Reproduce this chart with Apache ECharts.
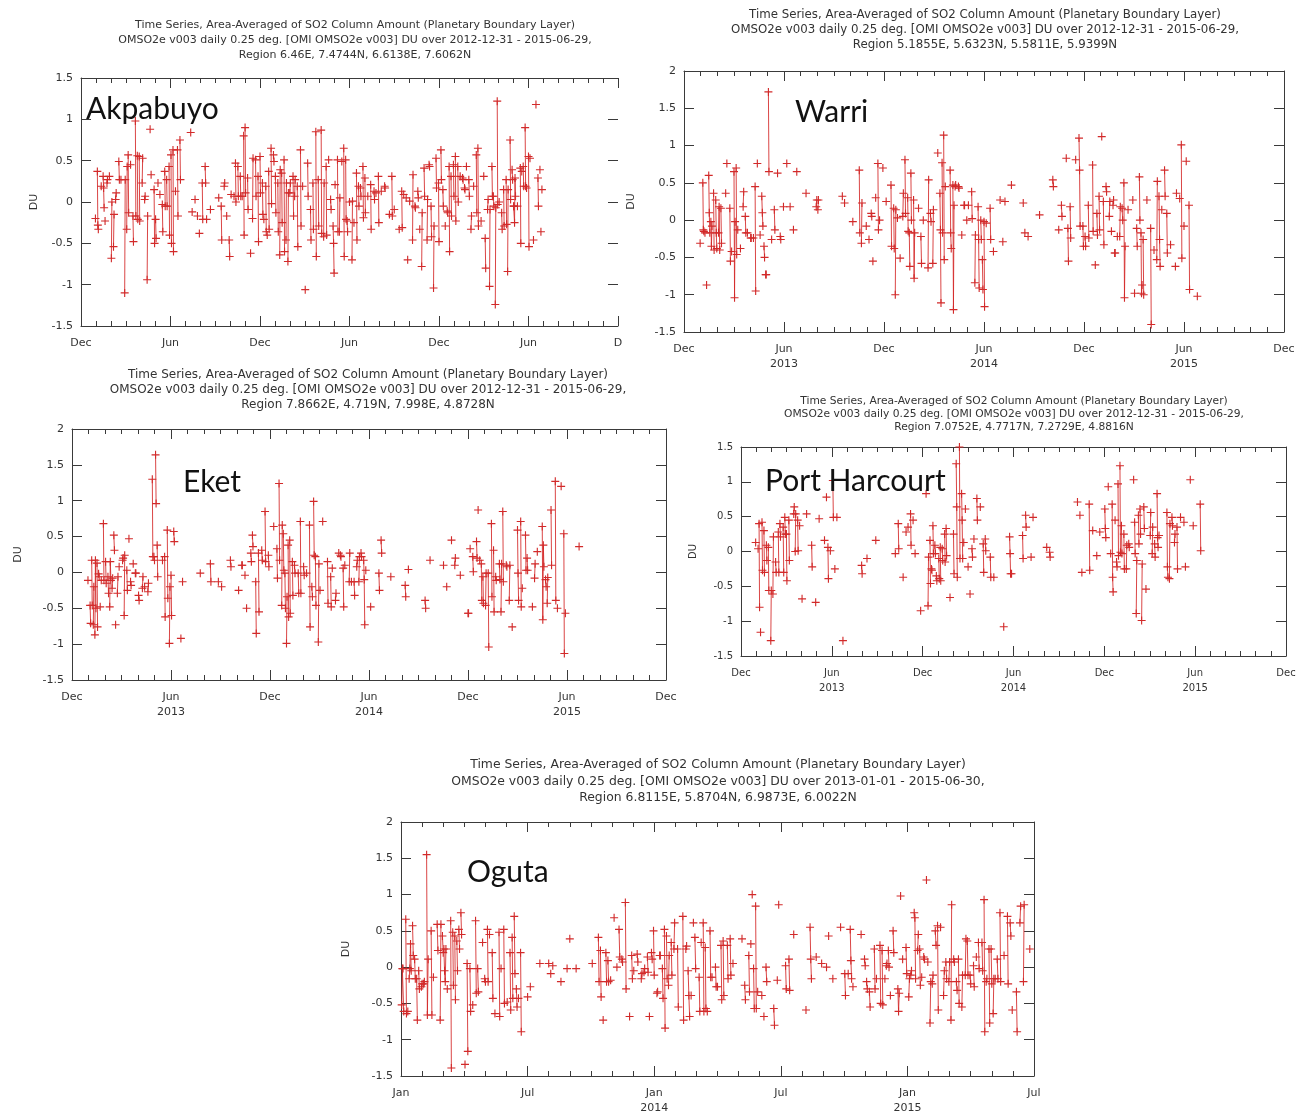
<!DOCTYPE html>
<html>
<head>
<meta charset="utf-8">
<script src="https://cdn.jsdelivr.net/npm/echarts@6/dist/echarts.min.js"></script>
<style>html,body{margin:0;background:#fff}#main{width:1309px;height:1116px}</style>
</head>
<body>
<div id="main"></div>
<script>
// site names, regions and periods shown in the titles
var sites = ['Akpabuyo', 'Warri', 'Eket', 'Port Harcourt', 'Oguta'];
var regions = ['Region 6.46E, 7.4744N, 6.6138E, 7.6062N',
               'Region 5.1855E, 5.6323N, 5.5811E, 5.9399N',
               'Region 7.8662E, 4.719N, 7.998E, 4.8728N',
               'Region 7.0752E, 4.7717N, 7.2729E, 4.8816N',
               'Region 6.8115E, 5.8704N, 6.9873E, 6.0022N'];
var periods = ['2012-12-31 - 2015-06-29', '2012-12-31 - 2015-06-29', '2012-12-31 - 2015-06-29',
               '2012-12-31 - 2015-06-29', '2013-01-01 - 2015-06-30'];
var startDates = ['2012-12-31', '2012-12-31', '2012-12-31', '2012-12-31', '2013-01-01'];

// x tick labels (every 6 months)
var ticksAkpabuyo = ['Dec', 'Jun', 'Dec', 'Jun', 'Dec', 'Jun', 'D'];
var ticksDec = ['Dec', 'Jun\n2013', 'Dec', 'Jun\n2014', 'Dec', 'Jun\n2015', 'Dec'];
var ticksJan = ['Jan', 'Jul', 'Jan\n2014', 'Jul', 'Jan\n2015', 'Jul'];

// [day since start date, DU]
var akpabuyo = [[0,-0.2],[4,0.37],[5,-0.28],[6,-0.33],[12,0.19],[16,0.31],[17,0.17],[18,-0.07],[20,-0.23],[24,0.23],[25,0.27],[29,0.31],[33,-0.68],[34,0],[37,-0.54],[38,-0.15],[41,0.03],[42,0.11],[47,0.49],[48,0.27],[51,0.27],[58,-1.1],[59,0.27],[62,-0.33],[63,0.43],[65,0.57],[66,-0.13],[70,0.45],[75,-0.17],[76,-0.48],[80,0.98],[81,-0.17],[84,0.56],[85,-0.21],[88,0.55],[89,-0.23],[94,0.23],[95,0.53],[99,0.03],[100,0.07],[104,-0.94],[105,-0.17],[110,0.88],[112,0.33],[118,0.15],[119,-0.5],[121,-0.21],[122,-0.44],[126,0.23],[130,0.09],[135,-0.03],[136,-0.36],[140,0.37],[141,-0.05],[144,0.27],[145,-0.05],[149,0.43],[150,-0.4],[153,0.57],[154,-0.5],[157,0.63],[158,-0.6],[162,0.13],[166,0.63],[167,-0.17],[171,0.75],[172,0.27],[193,0.84],[196,-0.12],[202,0.03],[207,-0.17],[211,-0.38],[217,0.23],[218,-0.21],[223,0.43],[224,0.23],[226,-0.21],[234,-0.09],[251,0.05],[256,-0.05],[257,-0.46],[262,0.19],[263,0.23],[267,-0.17],[272,-0.46],[273,-0.66],[276,0.09],[282,0.07],[285,0.47],[286,0],[290,0.43],[291,0.07],[295,0.31],[296,0.07],[299,0.07],[302,0.8],[303,-0.4],[305,0.9],[306,0.11],[310,0.29],[311,-0.09],[316,-0.62],[320,-0.2],[321,0.53],[326,0.51],[327,0.07],[331,0.31],[332,-0.48],[335,0.55],[336,0.11],[340,0.23],[341,-0.15],[343,-0.21],[347,0.19],[348,-0.36],[350,-0.4],[353,0.37],[354,-0.33],[358,0.65],[359,-0.02],[363,0.57],[364,0.49],[367,0.31],[368,-0.13],[372,0.23],[373,-0.36],[376,-0.64],[377,0.39],[380,0.35],[381,-0.25],[385,0.51],[386,-0.6],[389,-0.46],[390,0.23],[393,-0.72],[394,0.11],[397,0.11],[398,0.23],[403,0.31],[404,-0.17],[406,0.07],[407,0.27],[411,0.19],[412,-0.54],[417,0.63],[418,-0.29],[421,0.19],[426,-1.06],[431,0.47],[432,0.07],[437,-0.09],[438,-0.46],[442,0.23],[443,-0.33],[448,0.85],[449,-0.66],[453,0.27],[454,-0.29],[459,0.87],[460,-0.38],[464,-0.42],[465,0.23],[469,0.43],[470,-0.4],[474,0.51],[478,0.03],[479,-0.09],[483,-0.29],[484,-0.5],[485,-0.86],[487,0.21],[492,0.51],[493,-0.36],[496,-0.36],[497,0.05],[501,0.49],[505,0.65],[506,-0.66],[509,0.51],[510,-0.21],[512,-0.23],[513,-0.36],[517,0],[522,-0.7],[523,0.01],[526,-0.25],[531,0.35],[532,-0.46],[535,0.19],[536,-0.05],[539,0.17],[540,0.07],[544,0.43],[545,-0.19],[548,0.29],[549,-0.13],[554,0.07],[560,0.21],[561,-0.33],[567,0.13],[568,0.03],[571,0.11],[576,0.31],[577,-0.25],[582,0.13],[589,0.19],[590,0.17],[599,-0.15],[604,0.31],[605,-0.17],[609,-0.09],[619,-0.33],[624,0.13],[625,-0.31],[628,0.09],[633,0.05],[636,-0.7],[640,0.01],[646,-0.46],[647,0.33],[651,-0.05],[652,-0.07],[657,0.13],[658,0.05],[661,-0.33],[665,-0.78],[666,-0.13],[670,0.41],[671,0.07],[676,-0.46],[677,0.03],[680,0.45],[681,0.43],[684,-0.05],[685,-0.42],[689,-1.04],[690,-0.29],[694,0.53],[695,0.17],[699,0.23],[700,-0.48],[704,0.63],[705,0.27],[708,0.15],[709,-0.05],[713,-0.29],[717,-0.11],[718,-0.13],[721,0.43],[722,-0.6],[725,0.31],[726,-0.17],[730,0.45],[731,0.07],[734,0.55],[735,-0.23],[739,0.43],[740,0],[744,0.31],[749,0.29],[750,0.27],[753,0.17],[754,0.15],[757,0.43],[762,0.27],[763,0.07],[766,-0.33],[767,-0.17],[771,0.19],[776,0.57],[777,-0.13],[779,0.65],[780,-0.29],[785,-0.23],[790,0.31],[793,-0.44],[794,-0.8],[798,-0.09],[799,0.03],[802,-1.02],[803,-0.09],[807,0.43],[808,0.07],[810,0.07],[811,-0.05],[814,-1.24],[815,-0.07],[818,1.22],[819,-0.03],[822,0],[827,-0.13],[828,-0.33],[831,0.15],[832,-0.29],[836,0.27],[837,-0.27],[839,-0.84],[840,0.15],[844,0.75],[845,0.03],[848,0.39],[849,0.27],[851,-0.05],[852,-0.05],[853,-0.25],[854,0.29],[855,0.07],[859,-0.05],[865,0.41],[866,-0.5],[868,0.37],[871,0.43],[872,0.19],[875,0.9],[876,0.19],[878,0.17],[882,0.55],[883,-0.54],[885,0.53],[892,-0.46],[897,1.18],[901,0.29],[902,-0.05],[905,0.39],[907,-0.36],[909,0.15]];

var warri = [[0,-0.31],[5,0.5],[6,-0.13],[7,-0.15],[9,-0.17],[12,-0.87],[16,0.6],[17,0.1],[18,-0.17],[20,-0.02],[21,-0.35],[22,-0.08],[25,0.36],[26,-0.4],[29,0.27],[30,-0.17],[31,-0.38],[34,-0.17],[35,0.18],[36,-0.4],[38,0.16],[39,-0.31],[46,0.36],[48,0.76],[53,0.16],[54,-0.55],[56,-0.42],[60,0.65],[61,-1.04],[62,-0.02],[64,0.7],[65,-0.46],[67,-0.13],[72,-0.38],[77,0.18],[78,0.38],[81,0.05],[82,-0.17],[85,-0.17],[91,-0.24],[92,-0.24],[96,-0.24],[99,0.45],[100,-0.95],[103,0.76],[108,-0.2],[111,0.32],[112,0.1],[113,-0.08],[115,-0.35],[116,-0.5],[118,-0.73],[119,-0.73],[123,1.72],[124,0.65],[129,-0.26],[134,0.14],[135,-0.13],[140,0.63],[145,-0.22],[146,-0.26],[151,0.18],[157,0.76],[163,0.18],[169,-0.13],[175,0.65],[192,0.36],[211,0.18],[212,0.27],[214,0.14],[215,0.27],[259,0.32],[263,0.23],[278,-0.02],[290,0.67],[291,-0.17],[294,-0.31],[295,0.23],[303,-0.08],[308,-0.26],[312,0.09],[313,0.05],[315,-0.55],[320,0.3],[324,0.76],[325,-0.13],[327,0],[333,0.7],[339,0.25],[348,0.47],[349,-0.35],[353,0.16],[354,-0.38],[356,-1.0],[357,0.14],[360,0.03],[365,-0.51],[370,0.05],[371,0.36],[374,0.81],[375,0.09],[379,0.3],[380,-0.15],[382,-0.17],[383,-0.62],[385,0.63],[386,0],[390,0.27],[391,-0.78],[392,-0.17],[399,0.16],[403,-0.22],[404,-0.58],[407,0],[415,-0.64],[416,0.54],[419,0.09],[420,-0.02],[423,-0.58],[424,0.14],[432,0.9],[436,0.36],[437,-0.13],[438,-1.11],[440,0.77],[441,-0.17],[443,1.14],[444,-0.53],[446,0.45],[455,0.67],[456,-0.17],[457,-0.38],[460,0.47],[461,-1.2],[462,0.2],[464,0.45],[465,0.47],[470,0.45],[471,0.43],[476,-0.2],[480,0.2],[481,0.2],[485,0],[488,0.2],[494,0.38],[495,0.02],[500,-0.84],[501,-0.2],[506,0.18],[507,-0.26],[508,-0.91],[511,0],[512,-0.26],[514,-0.53],[515,-0.93],[517,-0.02],[518,-1.16],[521,-0.04],[528,0.16],[529,-0.26],[534,-0.42],[546,0.27],[551,-0.29],[555,0.25],[567,0.47],[589,0.23],[592,-0.17],[598,-0.22],[619,0.07],[643,0.54],[644,0.45],[654,-0.13],[659,0.2],[660,0.05],[668,0.83],[671,-0.11],[672,-0.55],[675,0.18],[676,-0.24],[685,0.81],[691,1.1],[692,0.67],[693,-0.08],[698,-0.08],[699,-0.35],[702,-0.22],[703,-0.35],[708,0.2],[709,-0.24],[716,0.74],[717,-0.15],[721,-0.6],[724,0.09],[725,-0.2],[728,0.32],[729,-0.13],[733,1.12],[736,0.25],[737,-0.33],[741,0.45],[742,0.38],[747,0.05],[748,0.25],[751,-0.15],[754,0.2],[755,0.27],[757,-0.44],[758,-0.44],[762,-0.22],[766,-0.22],[767,0.18],[770,0.16],[771,0],[773,0.5],[774,-1.04],[775,-0.35],[780,0.14],[788,0.27],[791,-0.98],[795,-0.11],[796,-0.35],[800,0.58],[801,0],[803,-0.17],[804,-0.98],[805,-0.87],[807,-0.26],[808,-1.0],[814,0.27],[821,-0.11],[822,-1.4],[827,-0.4],[832,-0.53],[833,0.52],[836,0.32],[837,-0.26],[838,-0.62],[841,0.14],[846,0.67],[847,0.32],[850,0.09],[851,-0.44],[857,-0.33],[866,-0.62],[868,0.36],[874,0.29],[877,1.01],[878,-0.51],[882,-0.08],[886,0.79],[891,0.2],[892,-0.93],[906,-1.02]];

var eket = [[0,-0.11],[4,-0.46],[5,-0.71],[7,0.17],[8,-0.46],[10,-0.73],[11,-0.2],[13,-0.87],[14,0.17],[15,-0.5],[17,0.13],[18,-0.76],[20,-0.02],[21,-0.06],[23,-0.48],[25,-0.11],[29,0.68],[30,-0.11],[33,0.15],[34,-0.15],[37,-0.06],[38,-0.29],[40,-0.48],[41,0.15],[42,-0.11],[44,-0.22],[45,-0.08],[47,0.52],[48,0.31],[50,-0.73],[53,-0.29],[54,-0.06],[56,0.08],[62,0.17],[63,0.2],[65,-0.6],[66,0.24],[70,0.03],[71,-0.25],[74,0.47],[77,-0.13],[78,-0.18],[82,0.12],[86,-0.01],[87,-0.01],[92,-0.32],[93,-0.39],[99,-0.22],[100,-0.06],[103,-0.2],[109,-0.27],[110,-0.15],[117,1.3],[118,0.22],[120,0.22],[121,0.17],[123,1.64],[124,0.96],[126,0.38],[127,-0.06],[136,0.17],[140,0.22],[141,-0.62],[145,0.59],[146,-0.36],[149,-0.99],[150,-0.2],[152,-0.04],[153,-0.6],[157,0.57],[158,0.43],[170,-0.92],[173,-0.13],[206,-0.01],[225,0.12],[226,-0.13],[240,-0.13],[246,-0.2],[262,0.17],[263,0.08],[277,-0.25],[283,0.1],[284,0.1],[289,-0.04],[292,-0.5],[300,0.27],[301,0.15],[303,0.52],[304,0.36],[309,-0.13],[310,-0.85],[314,0.27],[315,-0.55],[320,0.31],[321,0.17],[326,0.85],[327,0.15],[332,0.24],[333,0.08],[342,0.64],[348,0.33],[349,-0.08],[352,1.24],[353,0.17],[357,-0.46],[358,0.66],[360,0.54],[361,0.03],[363,-0.01],[364,-0.5],[366,-0.99],[367,-0.34],[369,0.38],[370,-0.62],[372,0.45],[373,-0.57],[377,0.15],[378,-0.32],[381,0.1],[382,-0.01],[388,-0.01],[389,-0.29],[392,0.71],[393,-0.29],[398,0.08],[399,-0.04],[403,-0.01],[408,0.66],[409,-0.76],[412,-0.2],[413,-0.34],[415,0.99],[416,0.24],[418,0.22],[419,-0.46],[423,-0.97],[424,0.12],[426,-0.25],[431,0.71],[440,0.15],[441,-0.43],[446,-0.06],[447,-0.48],[449,0.06],[455,-0.39],[456,-0.29],[461,0.27],[464,0.24],[465,0.22],[469,0.06],[470,-0.48],[472,0.1],[480,-0.13],[481,0.27],[484,-0.13],[489,-0.13],[490,-0.32],[494,0.08],[495,0.17],[498,-0.13],[499,0.22],[502,0.27],[503,0.22],[507,0.17],[508,-0.1],[509,-0.73],[511,0.03],[520,-0.48],[535,-0.01],[536,-0.25],[539,0.45],[540,0.27],[557,-0.06],[584,-0.18],[585,-0.34],[590,0.04],[621,-0.39],[622,-0.5],[630,0.17],[655,0.1],[661,-0.2],[670,0.45],[676,0.1],[677,0.2],[686,-0.04],[700,-0.57],[701,-0.57],[704,0.33],[709,0.22],[710,0.01],[716,0.43],[717,0.2],[719,0.87],[722,0.17],[725,0.12],[726,-0.39],[728,-0.06],[729,-0.43],[733,-0.46],[734,-0.01],[738,-0.01],[739,-1.04],[744,0.68],[745,-0.34],[748,0.31],[749,-0.55],[752,-0.06],[753,-0.11],[759,0.12],[760,-0.1],[762,-0.55],[763,0.12],[765,0.85],[766,-0.13],[771,0.1],[772,0.08],[776,-0.39],[777,0.1],[781,-0.76],[790,0.59],[791,-0.01],[792,-0.39],[796,0.71],[797,-0.48],[799,-0.22],[805,0.52],[806,0.03],[808,0.2],[809,0.03],[818,-0.48],[822,-0.08],[823,0.12],[827,0.29],[836,0.64],[837,-0.66],[838,0.38],[839,0.08],[842,-0.1],[843,-0.2],[845,-0.43],[846,-0.07],[852,0.87],[853,0.1],[860,1.27],[861,-0.39],[864,-0.5],[871,1.2],[876,0.54],[877,-1.13],[879,-0.57],[904,0.36]];

var portHarcourt = [[0,0.13],[5,0.04],[7,0.4],[8,-0.8],[10,-1.16],[13,0.42],[14,-0.27],[17,0.3],[18,-0.3],[22,0.09],[23,-0.13],[26,0.06],[27,-0.56],[31,-1.28],[32,-0.56],[35,-0.61],[36,0.21],[40,-0.15],[41,-0.3],[45,0.28],[46,-0.3],[48,0.4],[49,0.21],[54,0.35],[55,-0.3],[57,0.49],[58,0.25],[60,0.25],[61,-0.42],[65,0.45],[66,-0.13],[75,0.54],[76,0.64],[78,0],[79,0.54],[83,0.45],[84,0.01],[87,0.37],[92,-0.68],[101,0.54],[111,0.09],[112,-0.22],[119,-0.73],[126,0.47],[137,0.16],[141,0.78],[144,0.06],[145,-0.39],[149,0.01],[154,1.02],[155,0.49],[158,-0.25],[162,0.49],[174,-1.28],[212,-0.2],[213,-0.32],[223,-0.1],[241,0.16],[280,-0.03],[286,0.4],[287,0.04],[296,-0.37],[302,0.28],[306,0.35],[311,0.54],[312,0.09],[316,0.45],[320,-0.03],[331,-0.85],[342,0.83],[346,-0.78],[347,-0.08],[350,0.16],[351,-0.46],[353,-0.25],[354,-0.27],[356,0.37],[357,-0.03],[360,0.09],[361,-0.03],[363,-0.35],[364,-0.42],[368,-0.1],[369,-0.39],[371,0.06],[372,-0.42],[375,0.04],[376,-0.13],[380,0.25],[381,-0.15],[383,0.33],[384,-0.06],[391,-0.66],[398,0.25],[399,-0.32],[403,1.26],[404,0.64],[405,-0.37],[409,1.5],[410,-0.1],[413,0.83],[414,0.45],[415,-0.1],[417,0.13],[420,0.61],[425,-0.22],[429,-0.61],[433,0.04],[434,-0.08],[437,0.18],[443,0.76],[444,0.45],[450,0.64],[456,0.11],[457,-0.3],[460,0.18],[461,0.01],[470,-0.08],[471,-0.37],[477,-0.37],[497,-1.08],[509,0.21],[510,-0.03],[511,-0.32],[513,-0.32],[535,0.23],[536,-0.1],[541,0.52],[542,0.35],[552,-0.08],[556,0.49],[584,0.06],[590,-0.01],[591,-0.08],[646,0.71],[651,0.52],[655,-0.3],[670,0.68],[671,-0.27],[677,0.3],[685,-0.06],[691,0.28],[701,0.61],[702,0.33],[703,0.2],[708,0.93],[713,-0.03],[716,0.68],[717,-0.37],[718,-0.58],[722,0.45],[725,-0.15],[726,-0.22],[728,0.97],[729,-0.06],[732,1.23],[733,-0.01],[735,0.37],[736,-0.03],[740,0.25],[741,-0.25],[745,-0.25],[746,0.09],[750,0.11],[751,0.06],[760,1.03],[762,0.42],[763,-0.03],[765,-0.89],[766,-0.13],[769,0.52],[770,0.11],[772,0.61],[773,0.25],[775,-0.99],[776,-0.18],[779,0.64],[780,0.33],[783,-0.54],[791,0.23],[792,0.56],[795,-0.03],[796,0.35],[800,0.11],[801,-0.08],[805,0.83],[806,0.2],[807,0.06],[809,0.23],[825,0.56],[826,-0.22],[827,-0.37],[830,-0.39],[831,0.4],[835,0.49],[836,0.37],[840,0.13],[841,0.25],[845,0.35],[846,-0.25],[852,0.49],[859,0.42],[862,-0.22],[872,1.03],[878,0.37],[892,0.68],[893,0.01]];

var oguta = [[1,-0.52],[2,-0.02],[3,-0.02],[4,-0.61],[7,0.66],[8,-0.64],[10,-0.61],[12,-0.16],[13,-0.02],[14,0.32],[15,-0.05],[17,0.57],[18,0.16],[20,0.11],[21,-0.16],[23,-0.16],[24,-0.73],[26,-0.05],[27,-0.3],[30,-0.27],[31,-0.23],[33,-0.23],[34,-0.2],[37,1.55],[38,-0.66],[39,0.11],[43,0.5],[44,-0.66],[46,-0.14],[51,0.59],[52,0.23],[55,-0.73],[56,0.59],[58,0.43],[59,0.2],[60,0.25],[61,-0.05],[62,-0.2],[63,0.25],[65,-0.3],[70,0.64],[71,-1.39],[73,0.48],[74,-0.25],[76,0.43],[77,-0.45],[79,0.36],[80,-0.05],[82,0.52],[83,0.25],[85,0.75],[86,0.45],[91,-1.34],[94,0.05],[95,-1.16],[98,-0.02],[99,-0.61],[102,-0.52],[106,0.64],[107,-0.36],[109,-0.02],[110,-0.34],[116,0.34],[119,-0.16],[120,-0.2],[123,0.52],[124,-0.2],[126,0.45],[130,0.2],[131,-0.43],[134,-0.64],[140,0.48],[141,-0.68],[143,-0.02],[147,0.52],[148,-0.5],[152,-0.48],[156,0.2],[157,-0.59],[159,0.41],[160,-0.43],[162,0.7],[163,-0.09],[165,-0.3],[166,-0.55],[168,-0.43],[171,0.2],[172,-0.89],[181,-0.41],[185,-0.27],[199,0.05],[212,0.05],[215,-0.09],[218,0.02],[230,-0.2],[239,-0.02],[243,0.39],[252,-0.02],[275,0.05],[284,0.41],[285,-0.2],[287,0.23],[288,-0.41],[291,-0.73],[295,0.2],[296,-0.2],[298,0.09],[299,-0.2],[302,-0.18],[307,0.68],[311,0],[314,0.52],[315,0.14],[318,0.11],[319,0.07],[323,0.89],[324,-0.3],[329,-0.68],[332,0.16],[333,-0.16],[335,-0.05],[340,0.18],[341,0.07],[346,-0.16],[347,-0.09],[350,-0.07],[351,-0.02],[355,0.14],[356,-0.07],[358,-0.68],[361,0.2],[362,0.11],[364,0.5],[365,-0.11],[369,-0.36],[370,-0.34],[373,0.16],[374,0.16],[377,-0.02],[378,-0.43],[380,0.52],[381,-0.84],[383,0.43],[384,-0.16],[386,-0.25],[387,0.16],[390,0.34],[391,-0.11],[394,0.25],[395,0.61],[399,0.25],[400,-0.55],[406,0.7],[407,-0.73],[410,0.25],[411,0.29],[413,-0.05],[414,-0.39],[415,-0.68],[417,-0.39],[420,0.61],[422,0.41],[423,-0.02],[428,-0.14],[429,-0.61],[431,0.34],[434,0.61],[435,-0.61],[437,0.27],[438,-0.57],[440,-0.61],[444,0.5],[445,-0.14],[447,-0.14],[452,0],[453,-0.27],[455,-0.27],[460,0.3],[461,-0.45],[463,0.36],[464,-0.39],[469,0.3],[470,-0.16],[473,0.39],[474,-0.11],[477,0.05],[490,0.39],[494,-0.25],[495,-0.45],[500,0.16],[501,-0.34],[503,0.32],[505,1.0],[507,-0.02],[508,-0.57],[510,0.84],[511,-0.57],[513,-0.34],[519,-0.39],[522,-0.68],[525,0],[526,-0.2],[536,-0.57],[537,-0.8],[541,-0.18],[543,0.86],[553,0.02],[554,-0.3],[558,0.11],[559,-0.32],[565,0.45],[583,-0.59],[589,0.55],[590,0.11],[591,-0.16],[598,0.14],[606,0.05],[613,0],[616,0.43],[622,-0.16],[633,0.55],[639,-0.09],[640,-0.39],[644,-0.09],[647,0.52],[648,0.09],[649,-0.16],[651,-0.27],[663,0.45],[668,0.11],[669,0.02],[671,-0.2],[672,-0.3],[675,-0.34],[676,-0.55],[682,0.25],[683,-0.3],[685,-0.16],[690,0.3],[691,-0.5],[693,0.23],[694,-0.52],[697,-0.16],[699,0.02],[700,0.05],[702,0.23],[703,0],[705,-0.39],[709,0.5],[710,0.2],[716,-0.3],[717,-0.61],[718,-0.36],[720,0.98],[723,0.11],[728,0.27],[729,-0.09],[732,-0.41],[733,-0.16],[735,-0.11],[736,-0.05],[740,0.75],[741,0.68],[742,-0.16],[745,0.23],[746,0.45],[748,0.25],[749,-0.25],[751,-0.14],[754,0.14],[755,0.11],[758,1.2],[760,0.07],[763,-0.77],[764,-0.2],[766,-0.23],[767,-0.11],[770,0.5],[771,0.3],[773,0.57],[774,-0.59],[777,0.55],[781,-0.39],[782,-0.05],[784,0.07],[785,-0.16],[788,-0.2],[789,0.07],[791,-0.73],[792,0.86],[795,0.11],[796,0.07],[799,-0.2],[800,-0.32],[802,0.11],[803,-0.5],[807,-0.55],[808,-0.11],[812,-0.11],[813,0.39],[815,0.36],[816,-0.11],[819,-0.11],[820,-0.23],[824,0.02],[825,-0.27],[828,0.14],[831,0.34],[832,-0.02],[836,0.34],[837,-0.05],[839,0.93],[840,-0.89],[842,-0.2],[843,-0.16],[846,0.25],[847,-0.77],[849,0.25],[850,-0.23],[852,-0.64],[853,-0.16],[855,-0.16],[858,0.11],[859,-0.16],[862,0.75],[863,-0.2],[868,0.16],[873,0.7],[874,-0.23],[877,0.61],[878,0.43],[880,-0.59],[886,-0.34],[887,-0.89],[891,0.61],[892,0.84],[896,-0.2],[897,0.86],[905,0.25]];

var siteData = [akpabuyo, warri, eket, portHarcourt, oguta];
var siteTicks = [ticksAkpabuyo, ticksDec, ticksDec, ticksDec, ticksJan];

// panel placement on the page
var panels = [
  {left: 81, top: 78, width: 537, height: 248, yMin: -1.5, yMax: 1.5, months: 36, origin: [2012, 11], font: 11, rightLine: false, nameGap: 41, tx: 355, ty: [25, 40, 55], tf: 11, sx: 86, sy: 109},
  {left: 684, top: 71, width: 600, height: 261, yMin: -1.5, yMax: 2, months: 36, origin: [2012, 11], font: 11, rightLine: true, nameGap: 47, tx: 985, ty: [15, 30, 45], tf: 11.8, sx: 795, sy: 112},
  {left: 72, top: 429, width: 594, height: 251, yMin: -1.5, yMax: 2, months: 36, origin: [2012, 11], font: 11, rightLine: true, nameGap: 48, tx: 368, ty: [375, 390, 405], tf: 12, sx: 183, sy: 482},
  {left: 741, top: 447, width: 545, height: 209, yMin: -1.5, yMax: 1.5, months: 36, origin: [2012, 11], font: 10, rightLine: true, nameGap: 43, tx: 1014, ty: [401, 414, 427], tf: 10.7, sx: 765, sy: 481},
  {left: 401, top: 822, width: 633, height: 256, yMin: -1.5, yMax: 2, months: 30, origin: [2013, 0], font: 11, rightLine: true, nameGap: 49, tx: 718, ty: [765, 782, 798], tf: 12.4, sx: 467, sy: 872}
];

var DAY = 86400000;
var PLUS = 'path://M-0.14,-1H0.14V-0.14H1V0.14H0.14V1H-0.14V0.14H-1V-0.14H-0.14Z';
var RED = '#d22a2a';
var FRAME = '#3a3a3a';
var FONT = 'DejaVu Sans';

// fractional months since the axis origin
function toMonth(t, oy, om) {
  var d = new Date(t);
  var y = d.getUTCFullYear(), m = d.getUTCMonth();
  var dim = new Date(Date.UTC(y, m + 1, 0)).getUTCDate();
  return (y - oy) * 12 + (m - om) + (d.getUTCDate() - 1) / dim;
}

function toPoints(obs, start, origin) {
  var base = Date.parse(start + 'T00:00:00Z');
  return obs.map(function (p) {
    return [toMonth(base + p[0] * DAY, origin[0], origin[1]), p[1], p[0]];
  });
}

// consecutive days are joined, any gap breaks the line
function toLine(points) {
  var out = [], prev = null;
  points.forEach(function (p) {
    if (prev !== null && p[2] - prev > 1) out.push([p[0] - 0.01, '-']);
    out.push([p[0], p[1]]);
    prev = p[2];
  });
  return out;
}

var grids = [], xAxes = [], yAxes = [], series = [], graphics = [];

panels.forEach(function (p, i) {
  grids.push({left: p.left, top: p.top, width: p.width, height: p.height, containLabel: false});
  var ticks = siteTicks[i];
  var xBase = {
    gridIndex: i, type: 'value', min: 0, max: p.months, interval: 6,
    axisLine: {show: true, onZero: false, lineStyle: {color: FRAME, width: 1}},
    axisTick: {show: true, inside: true, length: 10, lineStyle: {color: FRAME, width: 1}},
    minorTick: {show: true, splitNumber: 6, length: 5, lineStyle: {color: FRAME, width: 1}},
    splitLine: {show: false}, minorSplitLine: {show: false}
  };
  xAxes.push(Object.assign({}, xBase, {
    position: 'bottom',
    axisLabel: {
      show: true, margin: 10, color: '#333', fontSize: p.font, fontFamily: FONT, lineHeight: 15,
      showMinLabel: true, showMaxLabel: true,
      formatter: function (v) { return ticks[Math.round(v / 6)] || ''; }
    }
  }));
  xAxes.push(Object.assign({}, xBase, {position: 'top', axisLabel: {show: false}}));
  var yBase = {
    gridIndex: i, type: 'value', min: p.yMin, max: p.yMax, interval: 0.5,
    axisTick: {show: true, inside: true, length: 10, lineStyle: {color: FRAME, width: 1}},
    splitLine: {show: false}
  };
  yAxes.push(Object.assign({}, yBase, {
    position: 'left',
    axisLine: {show: true, onZero: false, lineStyle: {color: FRAME, width: 1}},
    axisLabel: {show: true, margin: 8, color: '#333', fontSize: p.font, fontFamily: FONT},
    name: 'DU', nameLocation: 'middle', nameGap: p.nameGap,
    nameTextStyle: {color: '#333', fontSize: p.font, fontFamily: FONT}
  }));
  yAxes.push(Object.assign({}, yBase, {
    position: 'right',
    axisLine: {show: p.rightLine, onZero: false, lineStyle: {color: FRAME, width: 1}},
    axisLabel: {show: false}
  }));

  var pts = toPoints(siteData[i], startDates[i], p.origin);
  series.push({
    type: 'line', name: sites[i] + ' line', xAxisIndex: i * 2, yAxisIndex: i * 2,
    data: toLine(pts), connectNulls: false, symbol: 'none', showSymbol: false,
    lineStyle: {color: 'rgba(212,38,38,0.85)', width: 1},
    emphasis: {disabled: true}, silent: true, animation: false, z: 2
  });
  series.push({
    type: 'scatter', name: sites[i], xAxisIndex: i * 2, yAxisIndex: i * 2,
    data: pts.map(function (q) { return [q[0], q[1]]; }),
    symbol: PLUS, symbolSize: 8,
    itemStyle: {color: RED, opacity: 1, borderWidth: 0},
    emphasis: {disabled: true}, silent: true, animation: false, z: 3
  });

  var lines = ['Time Series, Area-Averaged of SO2 Column Amount (Planetary Boundary Layer)',
               'OMSO2e v003 daily 0.25 deg. [OMI OMSO2e v003] DU over ' + periods[i] + ',',
               regions[i]];
  lines.forEach(function (t, k) {
    graphics.push({
      type: 'text', x: p.tx, y: p.ty[k], silent: true,
      style: {text: t, fill: '#333', font: p.tf + 'px "' + FONT + '"',
              align: 'center', verticalAlign: 'middle', textAlign: 'center', textVerticalAlign: 'middle'}
    });
  });
  graphics.push({
    type: 'text', x: p.sx, y: p.sy, silent: true, z: 10,
    style: {text: sites[i], fill: '#111', font: '30px Lato',
            align: 'left', verticalAlign: 'middle', textAlign: 'left', textVerticalAlign: 'middle'}
  });
});

var chart = echarts.init(document.getElementById('main'), null, {renderer: 'canvas'});
chart.setOption({
  backgroundColor: '#fff',
  animation: false,
  grid: grids,
  xAxis: xAxes,
  yAxis: yAxes,
  series: series,
  graphic: graphics
});
</script>
</body>
</html>
